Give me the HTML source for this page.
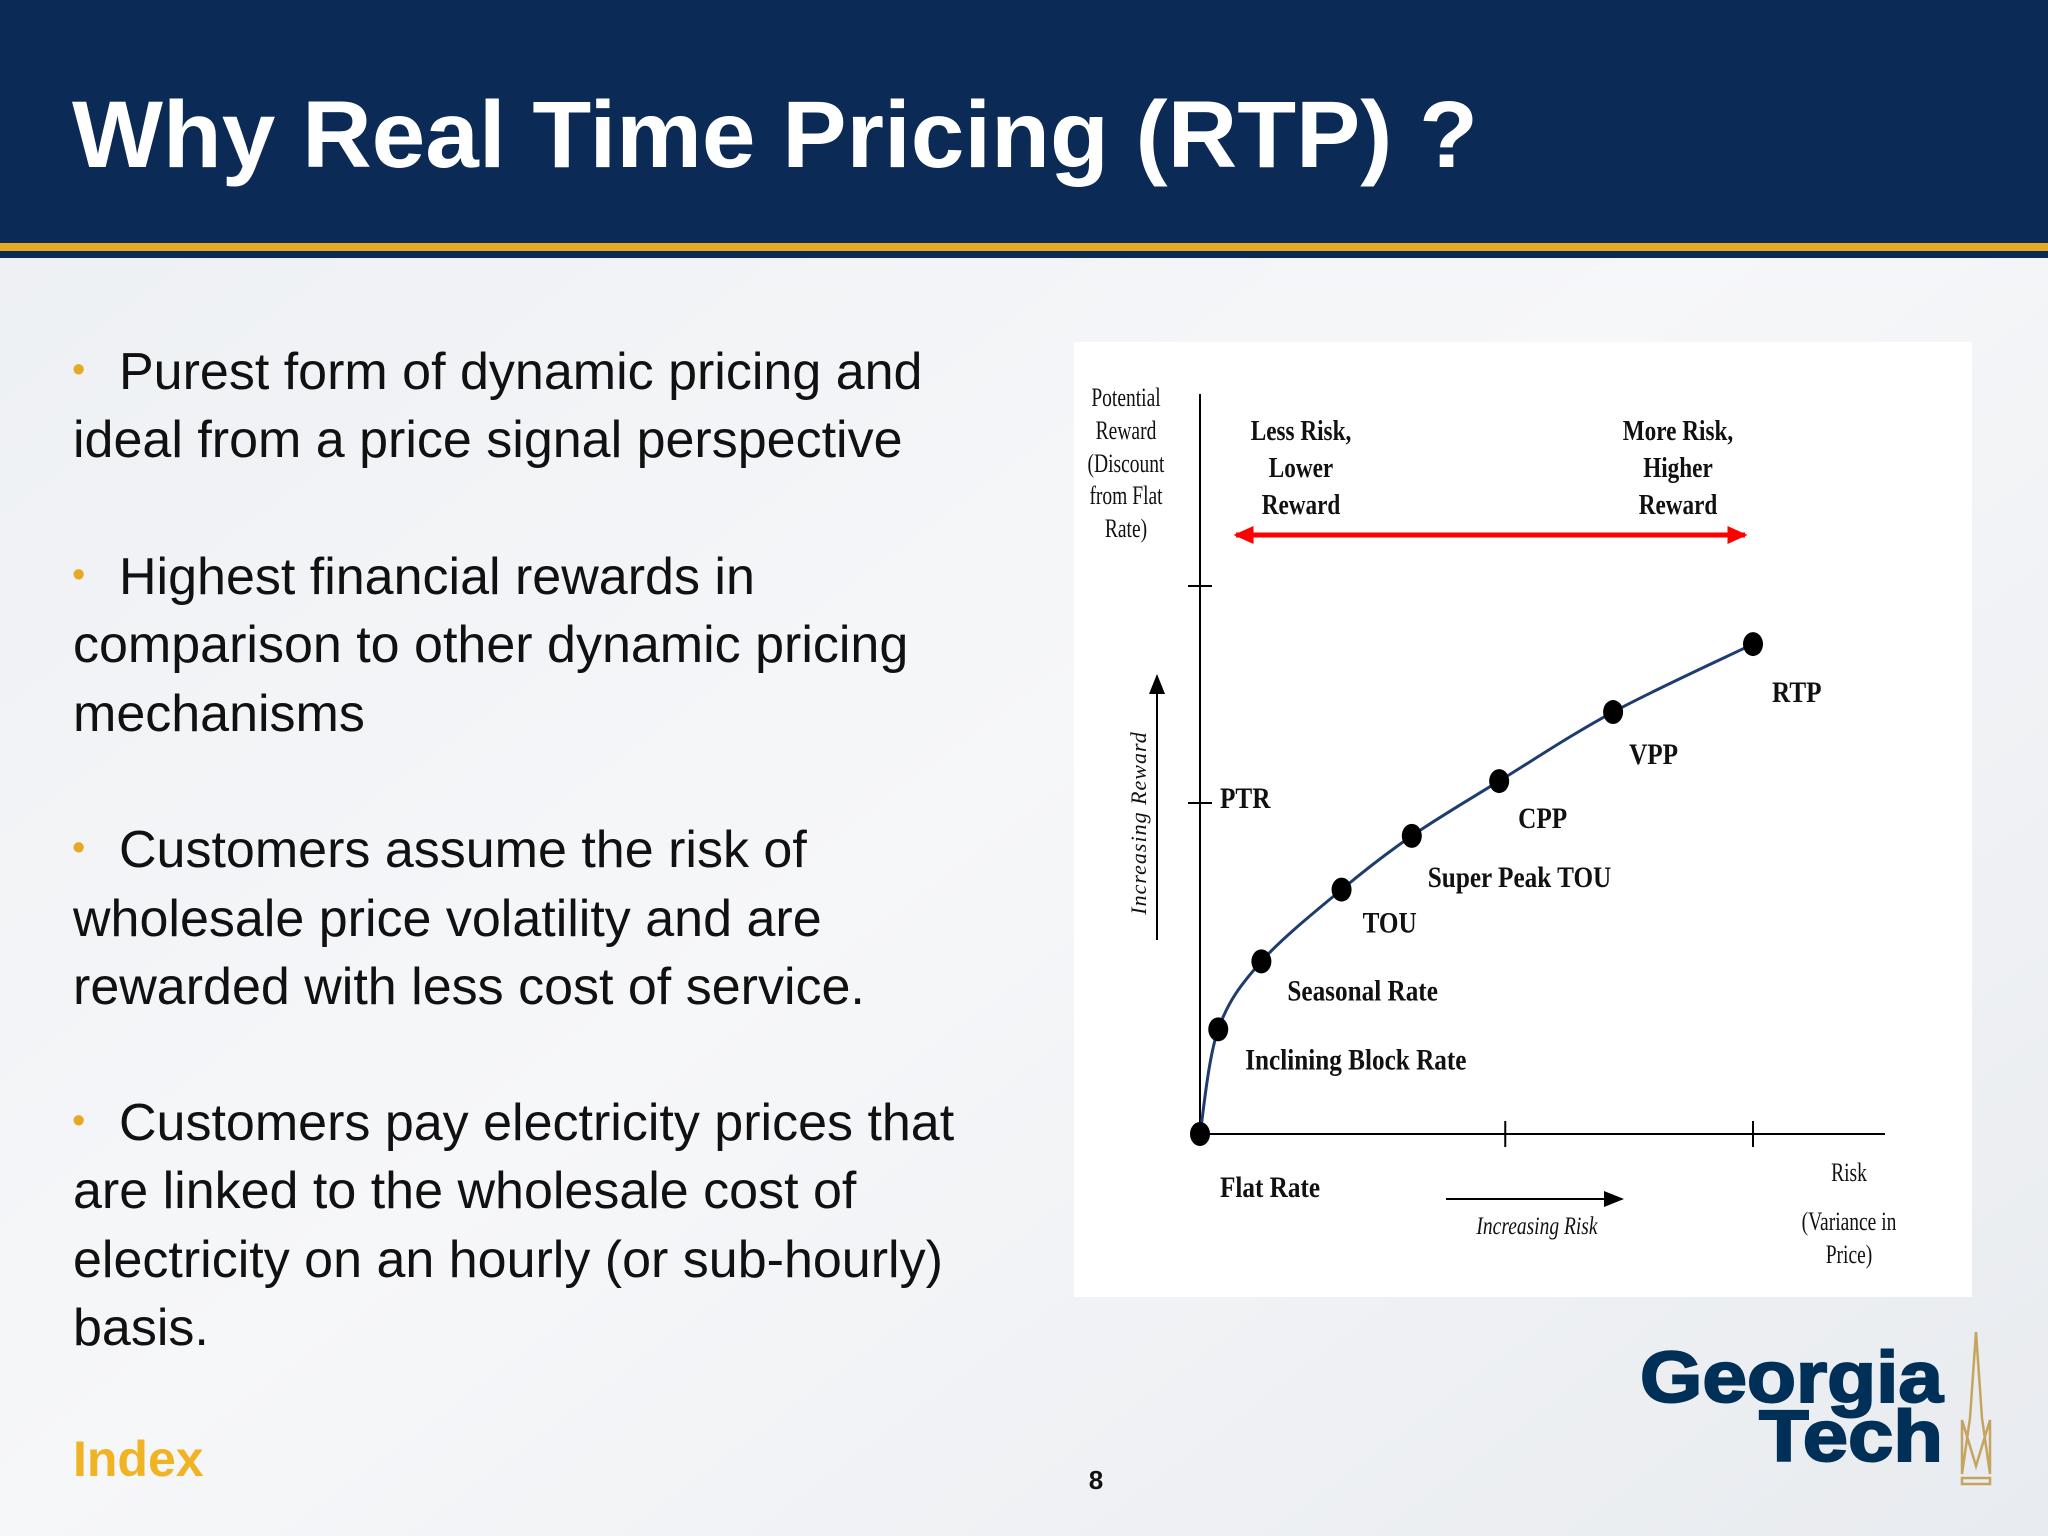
<!DOCTYPE html>
<html><head><meta charset="utf-8"><style>
html,body{margin:0;padding:0;width:2048px;height:1536px;overflow:hidden}
svg{display:block}
</style></head><body>
<svg id="slide" width="2048" height="1536" viewBox="0 0 2048 1536" xmlns="http://www.w3.org/2000/svg">
<defs>
<linearGradient id="bg" x1="0" y1="0" x2="1" y2="1">
<stop offset="0" stop-color="#eceff3"/><stop offset="0.5" stop-color="#f6f7f9"/><stop offset="1" stop-color="#e8ebef"/>
</linearGradient>
<marker id="ah" markerWidth="10" markerHeight="8" refX="9" refY="4" orient="auto"><path d="M0,0 L10,4 L0,8 z" fill="#000"/></marker>
<marker id="rh" markerWidth="4" markerHeight="3.6" refX="3.5" refY="1.8" orient="auto-start-reverse"><path d="M0,0 L4,1.8 L0,3.6 z" fill="#f00"/></marker>
</defs>
<rect width="2048" height="1536" fill="url(#bg)"/>
<g>
<rect x="0" y="0" width="2048" height="244" fill="#0b2a56"/>
<rect x="0" y="243" width="2048" height="8" fill="#e7a823"/>
<rect x="0" y="251" width="2048" height="7" fill="#0b2a56"/>
<text x="72" y="167" font-family="Liberation Sans, sans-serif" font-weight="bold" font-size="95" fill="#fff" textLength="1406" lengthAdjust="spacingAndGlyphs">Why Real Time Pricing (RTP) ?</text>
</g>
<g font-family="Liberation Sans, sans-serif" font-size="52" fill="#111">
<g fill="#e7a823" font-size="38"><text x="72" y="382">•</text><text x="72" y="587">•</text><text x="72" y="860">•</text><text x="72" y="1133">•</text></g>
<text x="119" y="389">Purest form of dynamic pricing and</text>
<text x="73" y="457">ideal from a price signal perspective</text>
<text x="119" y="594">Highest financial rewards in</text>
<text x="73" y="662">comparison to other dynamic pricing</text>
<text x="73" y="731">mechanisms</text>
<text x="119" y="867">Customers assume the risk of</text>
<text x="73" y="936">wholesale price volatility and are</text>
<text x="73" y="1004">rewarded with less cost of service.</text>
<text x="119" y="1140">Customers pay electricity prices that</text>
<text x="73" y="1208">are linked to the wholesale cost of</text>
<text x="73" y="1277">electricity on an hourly (or sub-hourly)</text>
<text x="73" y="1345">basis.</text>
</g>
<text x="73" y="1476" font-family="Liberation Sans, sans-serif" font-weight="bold" font-size="50" fill="#f0b323">Index</text>
<text x="1096" y="1489" text-anchor="middle" font-family="Liberation Sans, sans-serif" font-weight="bold" font-size="26" fill="#111">8</text>
<g font-family="Liberation Sans, sans-serif" font-weight="bold" font-size="72" fill="#003057" text-anchor="end" stroke="#003057" stroke-width="2">
<text x="1943" y="1402" textLength="303" lengthAdjust="spacingAndGlyphs">Georgia</text>
<text x="1943" y="1461" textLength="184" lengthAdjust="spacingAndGlyphs">Tech</text>
<g fill="none" stroke="#c5a45f" stroke-width="2.5"><path d="M1976,1332 L1970,1418 L1962,1474 L1962,1420 L1976,1466 L1990,1420 L1990,1474 L1982,1418 Z"/><rect x="1962" y="1478" width="28" height="6"/></g>
</g>
<g id="chart">
<rect x="1074" y="342" width="898" height="955" fill="#fff"/>
</g>
</svg>
<script>
const rateNames=["Flat Rate","Inclining Block Rate","Seasonal Rate","TOU","Super Peak TOU","CPP","VPP","RTP"];
const riskValues=[0,3.3,11.1,25.6,38.3,54.1,74.7,100];
const rewardValues=[0,19.1,31.5,44.6,54.4,64.4,77.0,89.4];
const ptrReward=[60.4];
const xTickValues=[55.2,100];
const NS="http://www.w3.org/2000/svg";
const g=document.getElementById('chart');
function xS(v){return 1200+(1753-1200)*v/100;}
function yS(v){return 1134-(1134-586)*v/100;}
function mk(tag,attrs,parent){const e=document.createElementNS(NS,tag);for(const k in attrs)e.setAttribute(k,attrs[k]);(parent||g).appendChild(e);return e;}
function txt(x,y,s,opts,cond){const e=mk('text',Object.assign({x:x,y:y,'font-family':'Liberation Serif, serif','font-size':30,'font-weight':'bold',fill:'#111'},opts||{}));e.textContent=s;
const w=e.getComputedTextLength();if(w>0){e.setAttribute('textLength',w*(cond||0.84));e.setAttribute('lengthAdjust','spacingAndGlyphs');}return e;}
let e=mk('line',{x1:1200,y1:394,x2:1200,y2:1134,stroke:'#000','stroke-width':2});


e=mk('line',{x1:1200,y1:1134,x2:1885,y2:1134,stroke:'#000','stroke-width':2});


[100,ptrReward[0]].forEach(function(v){const t=mk('line',{x1:1188,y1:yS(v),x2:1212,y2:yS(v),stroke:'#000','stroke-width':2});

});
xTickValues.forEach(function(v){const t=mk('line',{x1:xS(v),y1:1121,x2:xS(v),y2:1147,stroke:'#000','stroke-width':2});

});
const P=riskValues.map(function(r,i){return [xS(r),yS(rewardValues[i])];});
let d='M'+P[0][0]+','+P[0][1];
for(let i=0;i<P.length-1;i++){const p0=P[Math.max(0,i-1)],p1=P[i],p2=P[i+1],p3=P[Math.min(P.length-1,i+2)];
const c1=[p1[0]+(p2[0]-p0[0])/6,p1[1]+(p2[1]-p0[1])/6],c2=[p2[0]-(p3[0]-p1[0])/6,p2[1]-(p3[1]-p1[1])/6];
d+=' C'+c1[0]+','+c1[1]+' '+c2[0]+','+c2[1]+' '+p2[0]+','+p2[1];}
e=mk('path',{d:d,fill:'none',stroke:'#1f3c6e','stroke-width':3});


const labOff=[[20,63],[27,40],[26,39],[21,43],[16,51],[19,47],[16,52],[19,58]];
P.forEach(function(p,i){const c=mk('ellipse',{cx:p[0],cy:p[1],rx:10,ry:12,fill:'#000'});


const t=txt(p[0]+labOff[i][0],p[1]+labOff[i][1],rateNames[i]);

});
e=txt(1220,yS(ptrReward[0])+5,'PTR');


e=mk('line',{x1:1236,y1:535,x2:1745,y2:535,stroke:'#f00','stroke-width':5,'marker-start':'url(#rh)','marker-end':'url(#rh)'});


[['Less Risk,',1301,440],['Lower',1301,477],['Reward',1301,514],['More Risk,',1678,440],['Higher',1678,477],['Reward',1678,514]].forEach(function(a){const t=txt(a[1],a[2],a[0],{'text-anchor':'middle','font-size':29},0.8);

});
[['Potential',406],['Reward',439],['(Discount',472],['from Flat',504],['Rate)',537]].forEach(function(a){const t=txt(1126,a[1],a[0],{'text-anchor':'middle','font-size':26,'font-weight':'normal'},0.75);

});
[['Risk',1181],['(Variance in',1230],['Price)',1263]].forEach(function(a){const t=txt(1849,a[1],a[0],{'text-anchor':'middle','font-size':26,'font-weight':'normal'},0.75);

});
e=mk('line',{x1:1157,y1:940,x2:1157,y2:676,stroke:'#000','stroke-width':2,'marker-end':'url(#ah)'});


e=txt(0,0,'Increasing Reward',{'font-style':'italic','font-size':22,'font-weight':'normal','text-anchor':'middle',transform:'translate(1146,823) rotate(-90)','letter-spacing':'1'},1);


e=mk('line',{x1:1446,y1:1199,x2:1622,y2:1199,stroke:'#000','stroke-width':2,'marker-end':'url(#ah)'});


e=txt(1537,1234,'Increasing Risk',{'font-style':'italic','font-size':25,'font-weight':'normal','text-anchor':'middle'},0.78);


</script>
</body></html>
